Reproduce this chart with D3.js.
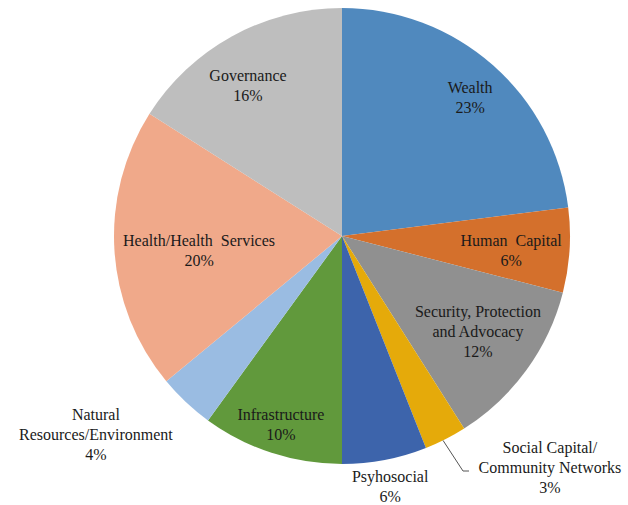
<!DOCTYPE html>
<html>
<head>
<meta charset="utf-8">
<script src="https://cdn.jsdelivr.net/npm/d3@7"></script>
</head>
<body style="margin:0">
<svg id="chart" width="628" height="505" style="font-family: 'Liberation Serif'"></svg>
<script>
// Share of items by domain (percent)
const categories = [
  "Wealth", "Human Capital", "Security, Protection and Advocacy",
  "Social Capital/ Community Networks", "Psyhosocial", "Infrastructure",
  "Natural Resources/Environment", "Health/Health Services", "Governance"
];
const values = [23, 6, 12, 3, 6, 10, 4, 20, 16];
const colors = [
  "#5089BE", "#D4702C", "#909090", "#E5AA0A", "#3D64AB",
  "#61993C", "#9ABCE2", "#F0A98A", "#BEBEBE"
];
// Label lines as drawn for each slice
const labelLines = [
  ["Wealth"], ["Human\u00a0 Capital"], ["Security, Protection", "and Advocacy"],
  ["Social Capital/", "Community Networks"], ["Psyhosocial"], ["Infrastructure"],
  ["Natural", "Resources/Environment"], ["Health/Health\u00a0 Services"], ["Governance"]
];

const svg = d3.select("#chart");
const cx = 342, cy = 236, r = 228;

const data = categories.map((c, i) => ({ name: c, value: values[i], color: colors[i], lines: labelLines[i] }));

const pie = d3.pie().sort(null).value(d => d.value);
const arcs = pie(data);
const arc = d3.arc().innerRadius(0).outerRadius(r);

const g = svg.append("g").attr("transform", `translate(${cx},${cy})`);

g.selectAll("path.slice")
  .data(arcs)
  .join("path")
  .attr("class", "slice")
  .attr("d", arc)
  .attr("fill", d => d.data.color);

// Label placement in polar terms: angle (degrees clockwise from top) and radius factor
const labelAngle = [42.6, 94.7, 124.9, 138, 169.1, 198, 231.2, 264.4, 328.1];
const labelRadius = [0.83, 0.744, 0.727, 1.363, 1.117, 0.867, 1.385, 0.63, 0.78];
const lineH = 20;

arcs.forEach((a, i) => {
  const ang = labelAngle[i] * Math.PI / 180;
  const rr = r * labelRadius[i];
  const x = cx + Math.sin(ang) * rr;
  const y = cy - Math.cos(ang) * rr;
  const lines = a.data.lines.concat([d3.format(".0%")(a.data.value / 100)]);
  const y0 = y - (lines.length - 1) * lineH / 2 + 6;
  lines.forEach((ln, k) => {
    svg.append("text")
      .attr("x", x)
      .attr("y", y0 + k * lineH)
      .attr("text-anchor", "middle")
      .attr("font-family", "Liberation Serif")
      .style("font-family", `"Liberation Serif"`)
      .style("font-size", "16px")
      .style("fill", "#1a1a1a")
      .text(ln);
  });
});

// Leader line for the Social Capital slice
const scAng = 153.7 * Math.PI / 180;
const p0 = [Math.sin(scAng) * r, -Math.cos(scAng) * r];
const p1 = [121, 235];
const p2 = [127, 235];
g.append("path")
  .attr("d", d3.line()([p0, p1, p2]))
  .attr("fill", "none")
  .attr("stroke", "#555")
  .attr("stroke-width", 1);
</script>
</body>
</html>
